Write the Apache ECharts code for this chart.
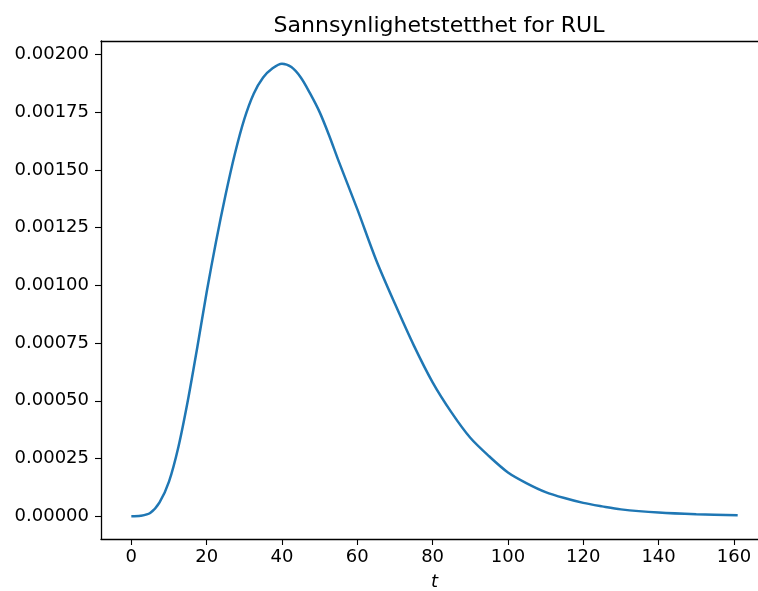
<!DOCTYPE html>
<html>
<head>
<meta charset="utf-8">
<script src="https://cdn.jsdelivr.net/npm/echarts@6/dist/echarts.min.js"></script>
<style>
  html, body { margin: 0; padding: 0; background: #fff; }
  #rulChart { width: 758px; height: 591px; }
</style>
</head>
<body>
<div id="rulChart"></div>
<script>
    // values
    const tValues = [0, 2.5, 5, 7.5, 10, 12.5, 15, 17.5, 20, 22.5, 25, 27.5, 30, 32.5, 35, 37.5,
        40, 42.5, 45, 47.5, 50, 52.5, 55, 60, 65, 70, 75, 80, 85, 90, 95, 100, 105, 110, 115, 120,
        125, 130, 140, 150, 161];
    const densityValues = [0, 0.000002, 0.000014, 0.00006, 0.00015, 0.0003, 0.0005, 0.00073,
        0.00097, 0.00119, 0.00139, 0.00157, 0.00172, 0.00183, 0.0019, 0.00194,
        0.00196, 0.001945, 0.0019, 0.00183, 0.00175, 0.00165, 0.00154, 0.00133, 0.00111, 0.00092,
        0.00074, 0.00058, 0.00045, 0.00034, 0.00026, 0.00019, 0.000143, 0.000105, 0.000079,
        0.000058, 0.000043, 0.00003, 0.000016, 0.0000085, 0.000004];
    const xTicks = [0, 20, 40, 60, 80, 100, 120, 140, 160];
    const yTicks = [0, 0.00025, 0.0005, 0.00075, 0.001, 0.00125, 0.0015, 0.00175, 0.002];

    const chartTitle = 'Sannsynlighetstetthet for RUL';
    const xName = 't';

    function fnBuildSeriesData() {
        let data = [];
        for (let index = 0; index < tValues.length; index++) {
            data.push([tValues[index], densityValues[index]]);
        }
        return data;
    }

    let chartDom = document.getElementById('rulChart');
    let myChart = echarts.init(chartDom, null, { renderer: 'canvas' });

    let font = 'DejaVu Sans';
    let spine = { show: true, onZero: false, lineStyle: { color: '#000', width: 1.3 } };

    let option = {
        animation: false,
        title: {
            text: chartTitle,
            left: 434,
            textAlign: 'center',
            top: 10,
            textStyle: { fontFamily: font, fontSize: 22, fontWeight: 'normal', color: '#000' }
        },
        grid: {
            left: 101,
            top: 41,
            width: 667,
            height: 498,
            outerBoundsMode: 'none',
            containLabel: false
        },
        xAxis: [
            {
                type: 'value',
                position: 'bottom',
                min: -8.05,
                max: 169.05,
                name: xName,
                nameLocation: 'middle',
                nameGap: 34,
                nameTextStyle: { fontFamily: font, fontSize: 18, fontStyle: 'italic', color: '#000' },
                axisLine: spine,
                axisTick: {
                    show: true, inside: false, length: 6,
                    customValues: xTicks,
                    lineStyle: { color: '#000', width: 1.1 }
                },
                axisLabel: {
                    customValues: xTicks,
                    margin: 9,
                    fontFamily: font, fontSize: 18, color: '#000'
                },
                splitLine: { show: false }
            },
            {
                // top spine only
                type: 'value',
                position: 'top',
                min: -8.05,
                max: 169.05,
                axisLine: spine,
                axisTick: { show: false },
                axisLabel: { show: false },
                splitLine: { show: false }
            }
        ],
        yAxis: {
            type: 'value',
            min: -0.0000983,
            max: 0.002058,
            axisLine: spine,
            axisTick: {
                show: true, inside: false, length: 6,
                customValues: yTicks,
                lineStyle: { color: '#000', width: 1.1 }
            },
            axisLabel: {
                customValues: yTicks,
                margin: 12,
                fontFamily: font, fontSize: 18, color: '#000',
                formatter: function (value) {
                    return Number(value).toFixed(5);
                }
            },
            splitLine: { show: false }
        },
        series: [
            {
                type: 'line',
                xAxisIndex: 0,
                data: fnBuildSeriesData(),
                smooth: 0.3,
                showSymbol: false,
                lineStyle: { color: '#1f77b4', width: 2.5 },
                itemStyle: { color: '#1f77b4' }
            }
        ]
    };

    myChart.setOption(option);
</script>
</body>
</html>
